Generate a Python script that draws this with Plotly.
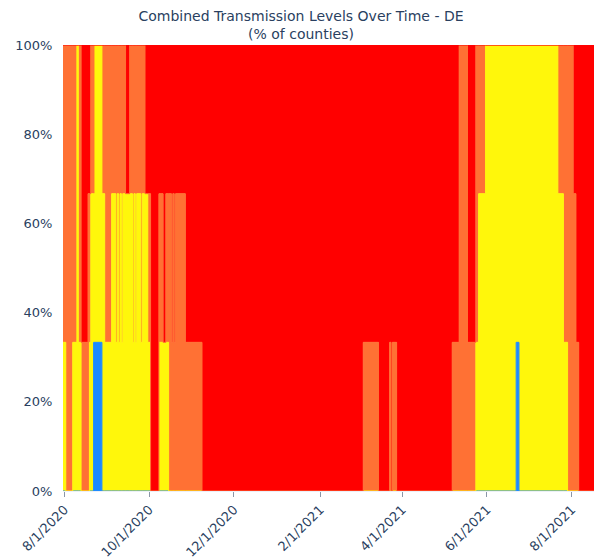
import plotly.graph_objects as go

# Delaware, 3 counties: number of counties at each level, from each change date on
change_dates = [
    "2020-07-31", "2020-08-02", "2020-08-07", "2020-08-10", "2020-08-11", "2020-08-13",
    "2020-08-18", "2020-08-19", "2020-08-20", "2020-08-22", "2020-08-23", "2020-08-28",
    "2020-08-30", "2020-09-04", "2020-09-07", "2020-09-08", "2020-09-09", "2020-09-10",
    "2020-09-11", "2020-09-12", "2020-09-14", "2020-09-17", "2020-09-19", "2020-09-20",
    "2020-09-21", "2020-09-22", "2020-09-25", "2020-09-26", "2020-09-28", "2020-09-30",
    "2020-10-02", "2020-10-08", "2020-10-11", "2020-10-13", "2020-10-15", "2020-10-17",
    "2020-10-18", "2020-10-19", "2020-10-20", "2020-10-27", "2020-11-08", "2021-03-04",
    "2021-03-15", "2021-03-23", "2021-03-24", "2021-03-25", "2021-03-28", "2021-05-07",
    "2021-05-12", "2021-05-18", "2021-05-24", "2021-05-26", "2021-05-31", "2021-06-22",
    "2021-06-24", "2021-07-22", "2021-07-26", "2021-07-29", "2021-08-02", "2021-08-04",
    "2021-08-06", "2021-08-17",
]
low = [
    0, 0, 0, 0, 0, 0, 0, 0, 0, 1, 1, 0,
    0, 0, 0, 0, 0, 0, 0, 0, 0, 0, 0, 0,
    0, 0, 0, 0, 0, 0, 0, 0, 0, 0, 0, 0,
    0, 0, 0, 0, 0, 0, 0, 0, 0, 0, 0, 0,
    0, 0, 0, 0, 0, 1, 0, 0, 0, 0, 0, 0,
    0, 0,
]
moderate = [
    1, 0, 1, 3, 1, 0, 0, 1, 2, 1, 2, 2,
    1, 2, 1, 2, 1, 2, 1, 2, 2, 2, 1, 2,
    1, 2, 1, 2, 2, 1, 0, 1, 1, 1, 0, 0,
    0, 0, 0, 0, 0, 0, 0, 0, 0, 0, 0, 0,
    0, 0, 1, 2, 3, 2, 3, 2, 1, 0, 0, 0,
    0, 0,
]
substantial = [
    2, 3, 2, 0, 2, 1, 2, 1, 1, 1, 0, 1,
    2, 1, 2, 1, 2, 1, 2, 1, 0, 1, 2, 1,
    2, 1, 2, 1, 0, 1, 0, 1, 0, 1, 2, 1,
    2, 1, 2, 1, 0, 1, 0, 1, 0, 1, 0, 1,
    3, 1, 2, 1, 0, 0, 0, 1, 2, 3, 2, 1,
    0, 0,
]
high = [
    0, 0, 0, 0, 0, 2, 1, 1, 0, 0, 0, 0,
    0, 0, 0, 0, 0, 0, 0, 0, 1, 0, 0, 0,
    0, 0, 0, 0, 1, 1, 3, 1, 2, 1, 1, 2,
    1, 2, 1, 2, 3, 2, 3, 2, 3, 2, 3, 2,
    0, 2, 0, 0, 0, 0, 0, 0, 0, 0, 1, 2,
    3, 3,
]
n_counties = 3

levels = ["Low", "Moderate", "Substantial", "High"]
colors = ["#1D8AFF", "#FFF70B", "#FF7134", "#FF0000"]


def to_pct(counts):
    return [c / n_counties * 100 for c in counts]


fig = go.Figure()
for name, counts, color in zip(levels, [low, moderate, substantial, high], colors):
    fig.add_trace(go.Scatter(
        x=change_dates,
        y=to_pct(counts),
        name=name,
        mode="lines",
        stackgroup="one",
        line=dict(color=color, width=1, shape="hv"),
        fillcolor=color,
    ))

# page body adds an 8px margin, so the figure is sized around it
fig.update_layout(
    template="plotly_white",
    width=586,
    height=550,
    showlegend=False,
    font=dict(family="DejaVu Sans", color="#2a3f5f"),
    margin=dict(l=55, r=0, t=37, b=67),
    title=dict(
        text="Combined Transmission Levels Over Time - DE<br>(% of counties)",
        x=0.5,
        xanchor="center",
        yref="container",
        y=0.976,
        yanchor="middle",
        font=dict(size=14),
    ),
)
fig.update_xaxes(
    dtick="M2",
    tick0="2020-08-01",
    tickformat="%-m/%-d/%Y",
    tickangle=-45,
    ticks="outside",
    ticklen=5,
    tickcolor="#8a96a8",
    showgrid=False,
    automargin=False,
    tickfont=dict(size=13),
)
fig.update_yaxes(
    range=[0, 100],
    ticksuffix="%",
    dtick=20,
    ticks="outside",
    ticklen=7,
    tickcolor="rgba(0,0,0,0)",
    showgrid=False,
    automargin=False,
    tickfont=dict(size=13),
)

fig.write_html("out.html")
